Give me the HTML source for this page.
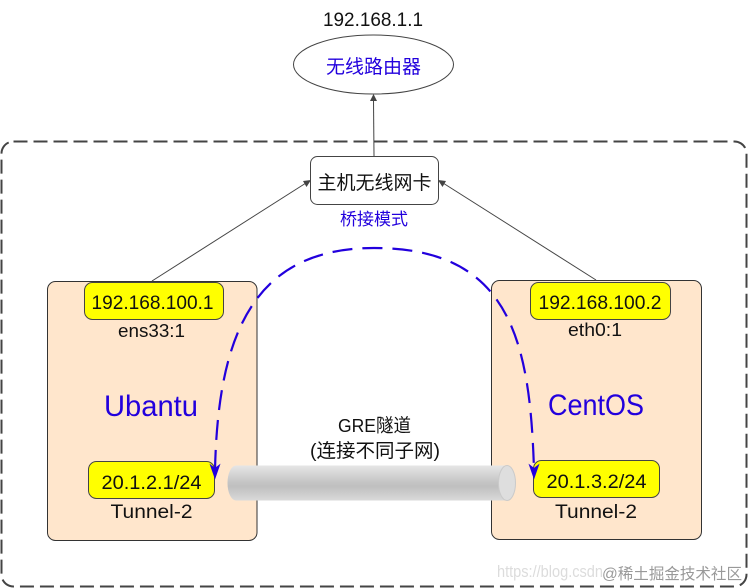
<!DOCTYPE html>
<html><head><meta charset="utf-8"><style>
html,body{margin:0;padding:0;background:#fff;width:748px;height:588px;overflow:hidden}
svg{display:block}
text{font-family:"Liberation Sans","Noto Sans CJK SC",sans-serif;fill:#111;text-anchor:middle}
.b{fill:#2200dd}
</style></head><body>
<svg width="748" height="588" viewBox="0 0 748 588" xmlns="http://www.w3.org/2000/svg">
<defs>
<linearGradient id="g" x1="0" y1="0" x2="0" y2="1">
<stop offset="0" stop-color="#e6e6e6"/><stop offset=".45" stop-color="#c6c6c6"/><stop offset=".6" stop-color="#bfbfbf"/><stop offset="1" stop-color="#dadada"/>
</linearGradient>
</defs>
<rect x="1.500" y="141.500" width="745" height="445" rx="12" fill="#fff" stroke="#444" stroke-width="2" stroke-dasharray="14 6"/>

<text x="373" y="26" font-size="19" textLength="100" lengthAdjust="spacingAndGlyphs">192.168.1.1</text>
<ellipse cx="373.500" cy="64.500" rx="80" ry="29.500" fill="#fff" stroke="#444"/>
<text class="b" x="373.500" y="73" font-size="19">无线路由器</text>

<line x1="374" y1="156" x2="373.500" y2="100" stroke="#444"/>
<path d="M373.500 94l-3.500 7h7z" fill="#444"/>

<rect x="310.500" y="156.500" width="128" height="48" rx="7" fill="#fff" stroke="#444"/>
<text x="374.500" y="189" font-size="19">主机无线网卡</text>
<text class="b" x="374" y="225" font-size="17">桥接模式</text>

<rect x="47.500" y="281.500" width="209.500" height="259" rx="8" fill="#ffe6cc" stroke="#333"/>
<rect x="491.500" y="280.500" width="210" height="259" rx="8" fill="#ffe6cc" stroke="#333"/>

<line x1="152" y1="281" x2="306" y2="183" stroke="#444"/>
<path d="M311 180l-8 1 3.500 6z" fill="#444"/>
<line x1="596" y1="280" x2="443" y2="183" stroke="#444"/>
<path d="M438 180l8 1-3.500 6z" fill="#444"/>

<rect x="84.500" y="282.500" width="139" height="37" rx="8" fill="#ff0" stroke="#444"/>
<text x="152.500" y="309" font-size="19" textLength="122" lengthAdjust="spacingAndGlyphs">192.168.100.1</text>
<text x="151.500" y="337" font-size="18" textLength="67" lengthAdjust="spacingAndGlyphs">ens33:1</text>
<text class="b" x="151" y="416" font-size="30" textLength="94" lengthAdjust="spacingAndGlyphs">Ubantu</text>
<rect x="88.500" y="461.500" width="126" height="37" rx="8" fill="#ff0" stroke="#444"/>
<text x="151.500" y="489" font-size="19" textLength="100" lengthAdjust="spacingAndGlyphs">20.1.2.1/24</text>
<text x="151.500" y="518" font-size="19" textLength="82" lengthAdjust="spacingAndGlyphs">Tunnel-2</text>

<rect x="530.500" y="282.500" width="140" height="37" rx="8" fill="#ff0" stroke="#444"/>
<text x="600" y="309" font-size="19" textLength="123" lengthAdjust="spacingAndGlyphs">192.168.100.2</text>
<text x="595" y="336" font-size="18" textLength="54" lengthAdjust="spacingAndGlyphs">eth0:1</text>
<text class="b" x="596" y="415" font-size="30" textLength="96" lengthAdjust="spacingAndGlyphs">CentOS</text>
<rect x="533.500" y="460.500" width="126" height="37" rx="8" fill="#ff0" stroke="#444"/>
<text x="596.500" y="488" font-size="19" textLength="100" lengthAdjust="spacingAndGlyphs">20.1.3.2/24</text>
<text x="596" y="518" font-size="19" textLength="82" lengthAdjust="spacingAndGlyphs">Tunnel-2</text>

<path d="M236 465.500H507V500.500H236a8.500 17.500 0 0 1 0-35z" fill="url(#g)"/>
<ellipse cx="507" cy="483" rx="8.500" ry="17.500" fill="#dedede" stroke="#cacaca"/>

<text x="374.500" y="432" font-size="18.500" textLength="73" lengthAdjust="spacingAndGlyphs">GRE隧道</text>
<text x="375" y="457" font-size="19" textLength="130" lengthAdjust="spacingAndGlyphs">(连接不同子网)</text>

<path d="M215 470C218 340 250 248 374 248C510 248 530 340 534 470" fill="none" stroke="#2200dd" stroke-width="2.200" stroke-dasharray="20 10"/>
<path d="M215 478l-4.500-13 4.500 3.500 4.500-3.500z" fill="#2200dd" stroke="#2200dd"/>
<path d="M534 478l-4.500-13 4.500 3.500 4.500-3.500z" fill="#2200dd" stroke="#2200dd"/>

<text x="550" y="577" font-size="17" style="fill:#dcdcdc" textLength="106" lengthAdjust="spacingAndGlyphs">https://blog.csdn</text>
<text x="672" y="579" font-size="15.500" style="fill:#999" textLength="140" lengthAdjust="spacingAndGlyphs">@稀土掘金技术社区</text>
</svg>
</body></html>
